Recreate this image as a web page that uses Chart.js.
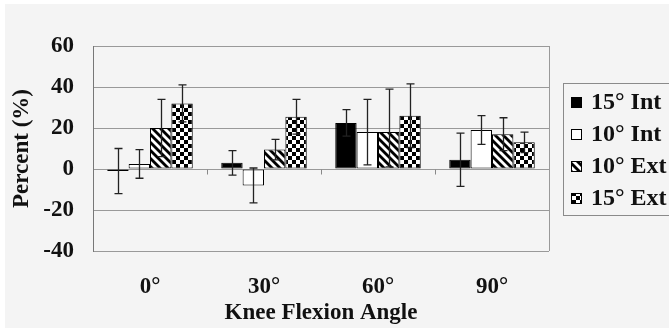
<!DOCTYPE html>
<html>
<head>
<meta charset="utf-8">
<script src="https://cdn.jsdelivr.net/npm/chart.js@4/dist/chart.umd.min.js"></script>
<style>
html,body{margin:0;padding:0;background:#fff;overflow:hidden;}
canvas{display:block;}
</style>
</head>
<body>
<canvas id="c" width="669" height="328"></canvas>
<script>
// ---- data ----
const categories = ['0°', '30°', '60°', '90°'];
const seriesNames = ['15° Int', '10° Int', '10° Ext', '15° Ext'];
const int15 = [-1, 3, 22.5, 4.5];
const int15ErrUp = [11, 6, 6.5, 13];
const int15ErrDown = [11, 6, 6.5, 13];
const int10 = [2.5, -8, 18, 19];
const int10ErrUp = [7, 8.5, 16, 7];
const int10ErrDown = [7, 8.5, 16, 7];
const ext10 = [20, 9.5, 18, 17];
const ext10ErrUp = [14, 5, 21, 8];
const ext10ErrDown = [14, 5, 17, 8];
const ext15 = [32, 25.5, 26, 13];
const ext15ErrUp = [9, 8.5, 15.5, 5];
const ext15ErrDown = [9, 8.5, 15.5, 5];
const yTicks = [-40, -20, 0, 20, 40, 60];

// ---- patterns ----
function diagPattern() {
  const c = document.createElement('canvas'); c.width = 8; c.height = 8;
  const g = c.getContext('2d');
  g.fillStyle = '#fff'; g.fillRect(0, 0, 8, 8);
  g.strokeStyle = '#000'; g.lineWidth = 2.8;
  for (let x = -8; x <= 8; x += 8) {
    g.beginPath(); g.moveTo(x - 1, -1); g.lineTo(x + 9, 9); g.stroke();
  }
  return g.createPattern(c, 'repeat');
}
function checkPattern() {
  const c = document.createElement('canvas'); c.width = 8; c.height = 8;
  const g = c.getContext('2d');
  g.fillStyle = '#000'; g.fillRect(0, 0, 8, 8);
  g.fillStyle = '#fff';
  g.fillRect(0, 0, 4, 4); g.fillRect(4, 4, 4, 4);
  return g.createPattern(c, 'repeat');
}
const fills = ['#000', '#fff', diagPattern(), checkPattern()];
const values = [int15, int10, ext10, ext15];
const errUp = [int15ErrUp, int10ErrUp, ext10ErrUp, ext15ErrUp];
const errDown = [int15ErrDown, int10ErrDown, ext10ErrDown, ext15ErrDown];

const FONT = '"Liberation Serif", "Times New Roman", serif';

const bgPlugin = {
  id: 'bg',
  beforeDraw(chart) {
    const g = chart.ctx;
    g.save();
    g.fillStyle = '#fff'; g.fillRect(0, 0, chart.width, chart.height);
    g.fillStyle = '#f4f4f4'; g.fillRect(5, 4, chart.width - 5, chart.height - 4);
    g.restore();
  }
};

const decoPlugin = {
  id: 'deco',
  beforeDatasetsDraw(chart) {
    const g = chart.ctx, a = chart.chartArea, y = chart.scales.y, x = chart.scales.x;
    g.save();
    g.strokeStyle = '#999'; g.lineWidth = 1;
    g.beginPath(); g.moveTo(a.right + 0.5, a.top); g.lineTo(a.right + 0.5, a.bottom); g.stroke();
    const y0 = Math.round(y.getPixelForValue(0)) + 0.5;
    g.strokeStyle = '#888';
    for (let i = 1; i < categories.length; i++) {
      const px = Math.round((x.getPixelForValue(i - 1) + x.getPixelForValue(i)) / 2) + 0.5;
      g.beginPath(); g.moveTo(px, y0); g.lineTo(px, y0 + 5); g.stroke();
    }
    g.restore();
  },
  afterDatasetsDraw(chart) {
    const g = chart.ctx, y = chart.scales.y;
    g.save();
    g.strokeStyle = '#222'; g.lineWidth = 1.3;
    chart.data.datasets.forEach((ds, di) => {
      const meta = chart.getDatasetMeta(di);
      meta.data.forEach((bar, i) => {
        const v = ds.data[i];
        const px = Math.round(bar.x) + 0.5;
        const yt = y.getPixelForValue(v + errUp[di][i]), yb = y.getPixelForValue(v - errDown[di][i]);
        g.beginPath();
        g.moveTo(px, yt); g.lineTo(px, yb);
        g.moveTo(px - 4, yt); g.lineTo(px + 4, yt);
        g.moveTo(px - 4, yb); g.lineTo(px + 4, yb);
        g.stroke();
      });
    });
    g.restore();
  },
  afterDraw(chart) {
    const g = chart.ctx;
    g.save();
    const lx = 563, ly = 83, lw = 120, lh = 132;
    g.fillStyle = '#f4f4f4';
    g.fillRect(lx, ly, lw, lh);
    g.strokeStyle = '#8a8a8a'; g.lineWidth = 1;
    g.strokeRect(lx + 0.5, ly + 0.5, lw, lh);
    g.font = 'bold 24px ' + FONT;
    g.textBaseline = 'middle';
    g.textAlign = 'left';
    const rowsY = [102, 134, 166, 198];
    chart.data.datasets.forEach((ds, i) => {
      const cy = rowsY[i];
      g.fillStyle = ds.backgroundColor;
      g.fillRect(571, cy - 5, 11, 11);
      g.strokeStyle = '#000'; g.lineWidth = 1;
      g.strokeRect(571.5, cy - 4.5, 10, 10);
      g.fillStyle = '#111';
      g.fillText(ds.label, 591, cy + 1);
    });
    g.restore();
  }
};

new Chart(document.getElementById('c'), {
  type: 'bar',
  data: {
    labels: categories,
    datasets: seriesNames.map((n, i) => ({
      label: n,
      data: values[i],
      backgroundColor: fills[i],
      borderColor: '#000',
      borderWidth: 1,
      borderSkipped: false,
      categoryPercentage: 0.75,
      barPercentage: 1.0
    }))
  },
  options: {
    responsive: false,
    animation: false,
    devicePixelRatio: 1,
    layout: { padding: { left: 5, top: 46, right: 120, bottom: 0 } },
    plugins: { legend: { display: false }, tooltip: { enabled: false } },
    scales: {
      x: {
        grid: { display: false, drawTicks: false },
        border: { display: false },
        ticks: { color: '#111', font: { family: FONT, size: 23, weight: 'bold' }, padding: 22 },
        title: { display: true, text: 'Knee Flexion Angle', color: '#111',
                 font: { family: FONT, size: 23, weight: 'bold' }, padding: { top: 0, bottom: 1 } },
        afterFit(s) { s.height = 77; }
      },
      y: {
        min: -40, max: 60,
        afterBuildTicks(s) { s.ticks = yTicks.map(v => ({ value: v })); },
        grid: { color: '#999', lineWidth: 1, drawTicks: false },
        border: { display: true, color: '#777', width: 1 },
        ticks: { color: '#111', font: { family: FONT, size: 23, weight: 'bold' }, padding: 19 },
        title: { display: true, text: 'Percent (%)', color: '#111',
                 font: { family: FONT, size: 23, weight: 'bold' }, padding: { top: 3, bottom: 0 } },
        afterFit(s) { s.width = 88; }
      }
    }
  },
  plugins: [bgPlugin, decoPlugin]
});
</script>
</body>
</html>
